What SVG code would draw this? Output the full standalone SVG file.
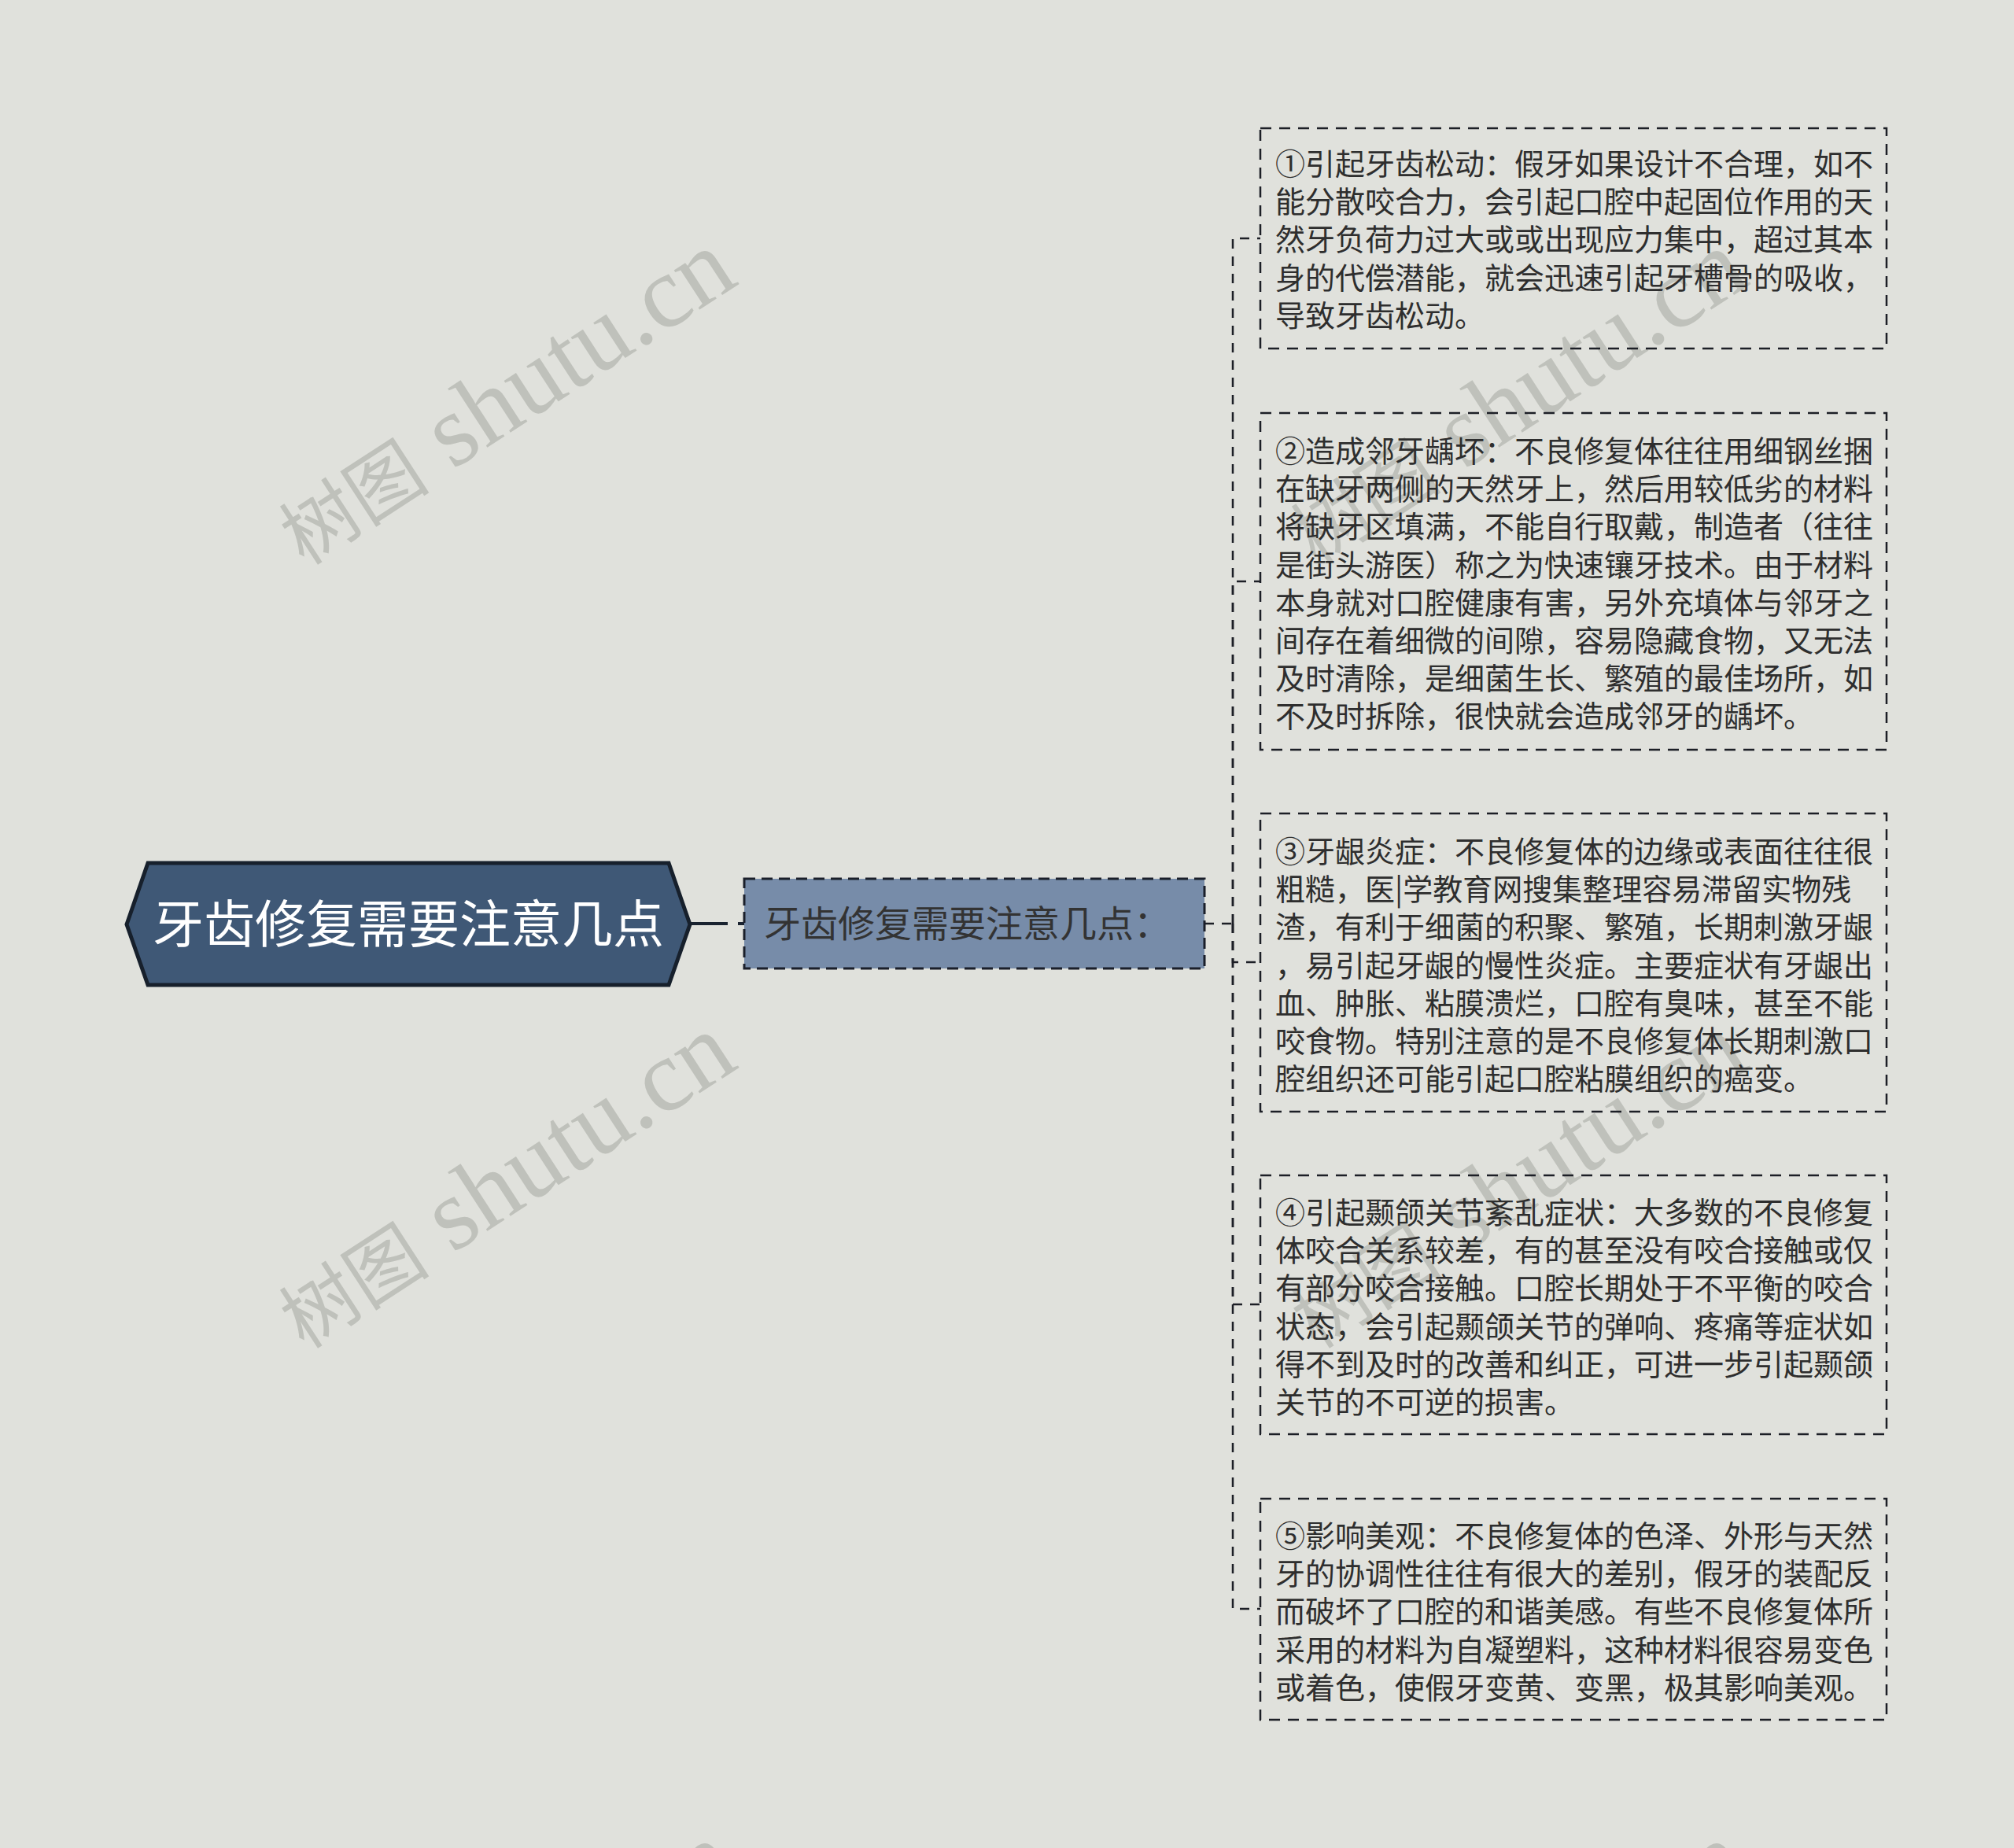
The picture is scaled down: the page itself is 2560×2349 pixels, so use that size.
<svg xmlns="http://www.w3.org/2000/svg" width="2560" height="2349" viewBox="0 0 2560 2349">
<style>
.wm{font-family:"Liberation Serif","Noto Sans CJK SC",serif;font-size:130px;fill:#bfc1bb;}
.wm .cj{font-size:96px;}
.leaf{fill:none;stroke:#1c1f26;stroke-width:2.5;stroke-dasharray:14 10;}
.lt{font-family:"Noto Sans CJK SC","Noto Sans",sans-serif;font-size:38px;fill:#2e2e2e;}
.conn{fill:none;stroke:#1c1f26;stroke-width:2.5;stroke-dasharray:12 10;}
</style>
<rect width="2560" height="2349" fill="#e0e1dc"/>
<g id="watermarks">
<text class="wm" text-anchor="middle" transform="translate(664 540) rotate(-33)"><tspan class="cj">树图</tspan> shutu.cn</text>
<text class="wm" text-anchor="middle" transform="translate(1950 540) rotate(-33)"><tspan class="cj">树图</tspan> shutu.cn</text>
<text class="wm" text-anchor="middle" transform="translate(664 1536) rotate(-33)"><tspan class="cj">树图</tspan> shutu.cn</text>
<text class="wm" text-anchor="middle" transform="translate(1950 1536) rotate(-33)"><tspan class="cj">树图</tspan> shutu.cn</text>
<text class="wm" text-anchor="middle" transform="translate(664 2564) rotate(-33)"><tspan class="cj">树图</tspan> shutu.cn</text>
<text class="wm" text-anchor="middle" transform="translate(1950 2564) rotate(-33)"><tspan class="cj">树图</tspan> shutu.cn</text>
</g>
<g id="connectors">
<path d="M878 1174 H946" fill="none" stroke="#1a2330" stroke-width="4" stroke-dasharray="47 13"/>
<path class="conn" d="M1531 1174 H1567"/>
<path class="conn" d="M1567 1174 V303 H1602"/>
<path class="conn" d="M1567 1174 V739 H1602"/>
<path class="conn" d="M1567 1174 V1223 H1602"/>
<path class="conn" d="M1567 1174 V1658 H1602"/>
<path class="conn" d="M1567 1174 V2045 H1602"/>
</g>
<g id="root">
<polygon points="161,1175 188,1097 850,1097 877,1175 850,1252 188,1252" fill="#3f5876" stroke="#17202c" stroke-width="5"/>
<text x="519" y="1198" text-anchor="middle" font-family="Noto Sans CJK SC, sans-serif" font-size="65" fill="#ffffff">牙齿修复需要注意几点</text>
</g>
<g id="middle">
<rect x="946" y="1117" width="585" height="114" fill="#778ca9" stroke="#1a1f2a" stroke-width="3" stroke-dasharray="14 8"/>
<text x="971" y="1191" font-family="Noto Sans CJK SC, sans-serif" font-size="47" fill="#333333">牙齿修复需要注意几点：</text>
</g>
<g id="leaf1">
<rect class="leaf" x="1602" y="163" width="796" height="280"/>
<text class="lt" x="1621" y="222"><tspan x="1621">①引起牙齿松动：假牙如果设计不合理，如不</tspan><tspan x="1621" dy="48.2">能分散咬合力，会引起口腔中起固位作用的天</tspan><tspan x="1621" dy="48.2">然牙负荷力过大或或出现应力集中，超过其本</tspan><tspan x="1621" dy="48.2">身的代偿潜能，就会迅速引起牙槽骨的吸收，</tspan><tspan x="1621" dy="48.2">导致牙齿松动。</tspan></text>
</g>
<g id="leaf2">
<rect class="leaf" x="1602" y="525" width="796" height="428"/>
<text class="lt" x="1621" y="587"><tspan x="1621">②造成邻牙龋坏：不良修复体往往用细钢丝捆</tspan><tspan x="1621" dy="48.2">在缺牙两侧的天然牙上，然后用较低劣的材料</tspan><tspan x="1621" dy="48.2">将缺牙区填满，不能自行取戴，制造者（往往</tspan><tspan x="1621" dy="48.2">是街头游医）称之为快速镶牙技术。由于材料</tspan><tspan x="1621" dy="48.2">本身就对口腔健康有害，另外充填体与邻牙之</tspan><tspan x="1621" dy="48.2">间存在着细微的间隙，容易隐藏食物，又无法</tspan><tspan x="1621" dy="48.2">及时清除，是细菌生长、繁殖的最佳场所，如</tspan><tspan x="1621" dy="48.2">不及时拆除，很快就会造成邻牙的龋坏。</tspan></text>
</g>
<g id="leaf3">
<rect class="leaf" x="1602" y="1034" width="796" height="379"/>
<text class="lt" x="1621" y="1096"><tspan x="1621">③牙龈炎症：不良修复体的边缘或表面往往很</tspan><tspan x="1621" dy="48.2">粗糙，医|学教育网搜集整理容易滞留实物残</tspan><tspan x="1621" dy="48.2">渣，有利于细菌的积聚、繁殖，长期刺激牙龈</tspan><tspan x="1621" dy="48.2">，易引起牙龈的慢性炎症。主要症状有牙龈出</tspan><tspan x="1621" dy="48.2">血、肿胀、粘膜溃烂，口腔有臭味，甚至不能</tspan><tspan x="1621" dy="48.2">咬食物。特别注意的是不良修复体长期刺激口</tspan><tspan x="1621" dy="48.2">腔组织还可能引起口腔粘膜组织的癌变。</tspan></text>
</g>
<g id="leaf4">
<rect class="leaf" x="1602" y="1494" width="796" height="329"/>
<text class="lt" x="1621" y="1555"><tspan x="1621">④引起颞颌关节紊乱症状：大多数的不良修复</tspan><tspan x="1621" dy="48.2">体咬合关系较差，有的甚至没有咬合接触或仅</tspan><tspan x="1621" dy="48.2">有部分咬合接触。口腔长期处于不平衡的咬合</tspan><tspan x="1621" dy="48.2">状态，会引起颞颌关节的弹响、疼痛等症状如</tspan><tspan x="1621" dy="48.2">得不到及时的改善和纠正，可进一步引起颞颌</tspan><tspan x="1621" dy="48.2">关节的不可逆的损害。</tspan></text>
</g>
<g id="leaf5">
<rect class="leaf" x="1602" y="1905" width="796" height="281"/>
<text class="lt" x="1621" y="1966"><tspan x="1621">⑤影响美观：不良修复体的色泽、外形与天然</tspan><tspan x="1621" dy="48.2">牙的协调性往往有很大的差别，假牙的装配反</tspan><tspan x="1621" dy="48.2">而破坏了口腔的和谐美感。有些不良修复体所</tspan><tspan x="1621" dy="48.2">采用的材料为自凝塑料，这种材料很容易变色</tspan><tspan x="1621" dy="48.2">或着色，使假牙变黄、变黑，极其影响美观。</tspan></text>
</g>
</svg>
